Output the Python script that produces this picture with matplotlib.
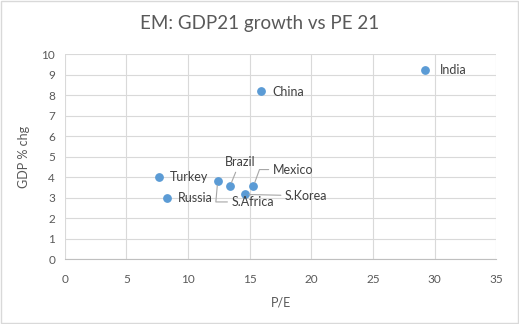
import matplotlib
matplotlib.use('Agg')
import matplotlib.pyplot as plt
from matplotlib.patches import Rectangle

plt.rcParams['font.family'] = ['Lato', 'DejaVu Sans']

# data
countries = ['India', 'China', 'Turkey', 'Russia', 'S.Africa', 'Brazil', 'Mexico', 'S.Korea']
pe = [29.2, 15.9, 7.6, 8.3, 12.4, 13.4, 15.3, 14.6]
gdp = [9.2, 8.2, 4.0, 3.0, 3.8, 3.55, 3.55, 3.15]

grey = '#595959'
blue = '#5B9BD5'

fig = plt.figure(figsize=(5.19, 3.24), dpi=100)
ax = fig.add_axes([0.125, 0.2006, 0.831, 0.6327])

ax.scatter(pe, gdp, s=28, color=blue, zorder=3)

ax.set_xlim(0, 35)
ax.set_ylim(0, 10)
ax.set_xticks(range(0, 36, 5))
ax.set_yticks(range(0, 11, 1))
ax.grid(True, color='#D9D9D9', linewidth=0.8)
ax.set_axisbelow(True)
for s in ['top', 'right', 'left']:
    ax.spines[s].set_visible(False)
ax.spines['bottom'].set_color('#BFBFBF')
ax.tick_params(length=0, colors=grey, labelsize=8.5, pad=11)
ax.tick_params(axis='y', pad=7)

ax.set_xlabel('P/E', color=grey, fontsize=9, labelpad=8)
ax.set_ylabel('GDP % chg', color=grey, fontsize=9, labelpad=8)
fig.suptitle('EM: GDP21 growth vs PE 21', color=grey, fontsize=13.5, x=0.5, y=0.955)

# label placement (offset in points) and leader style
lab = {
    'India': ((11, 0), 'left', 'center', None),
    'China': ((8, -1), 'left', 'center', None),
    'Turkey': ((8, 0), 'left', 'center', None),
    'Russia': ((8, 0), 'left', 'center', None),
    'S.Africa': ((10, -15), 'left', 'center', 'angle,angleA=0,angleB=85'),
    'Brazil': ((7, 13), 'center', 'bottom', 'arc3'),
    'Mexico': ((14, 12), 'left', 'center', 'angle,angleA=0,angleB=70'),
    'S.Korea': ((29, -1), 'left', 'center', 'arc3'),
}
for c, x, y in zip(countries, pe, gdp):
    off, ha, va, cs = lab[c]
    kw = {}
    if cs:
        kw['arrowprops'] = dict(arrowstyle='-', color='#A6A6A6', lw=0.8,
                                connectionstyle=cs, shrinkA=1, shrinkB=3)
    ax.annotate(c, (x, y), xytext=off, textcoords='offset points',
                ha=ha, va=va, fontsize=9, color='#404040', **kw)

fig.patches.append(Rectangle((0.002, 0.003), 0.996, 0.994, transform=fig.transFigure,
                             fill=False, edgecolor='#D9D9D9', linewidth=1))

fig.savefig('out.png', dpi=100)
